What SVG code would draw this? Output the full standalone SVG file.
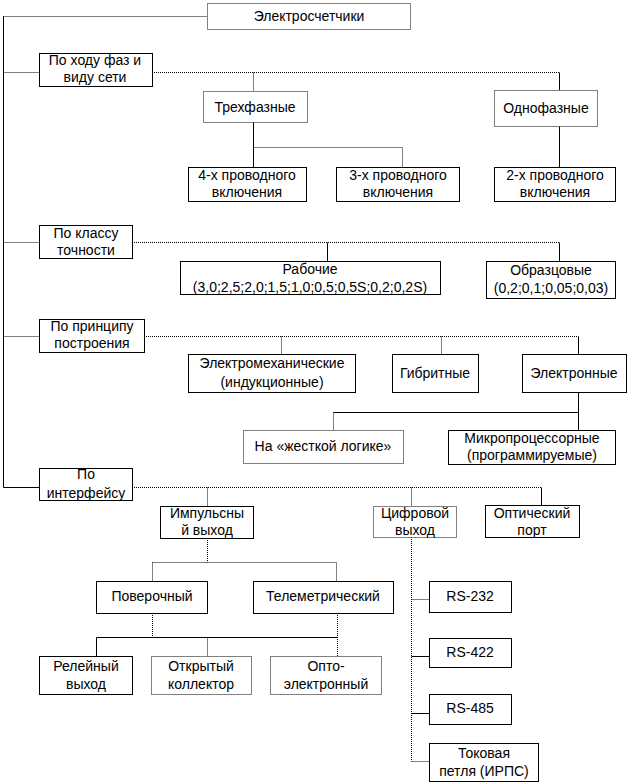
<svg xmlns="http://www.w3.org/2000/svg" width="630" height="784" viewBox="0 0 630 784">
<style>
rect{fill:#fff;stroke:#000;stroke-width:1}
rect.d{stroke-dasharray:1,1}
text{font-family:"Liberation Sans",Arial,sans-serif;font-size:14px;fill:#000;text-anchor:middle}
.s{fill:none;stroke:#000;stroke-width:1}
.d2{fill:none;stroke:#000;stroke-width:1;stroke-dasharray:1,1}
</style>
<rect x="0" y="0" width="630" height="784" style="fill:#fff;stroke:none"/>
<g id="connectors">
<path class="s" d="M3.5 16V487.5"/>
<path class="d2" d="M3.5 16.5H207"/>
<path class="d2" d="M3.5 72.5H39M152 72.5H559.5"/>
<path class="s" d="M559.5 72.5V90"/>
<path class="d2" d="M253.5 72.5V91"/>
<path class="s" d="M253.5 122V167"/>
<path class="d2" d="M253.5 147.5H402.5V167"/>
<path class="s" d="M559.5 126V167"/>
<path class="d2" d="M3.5 242.5H39M132 242.5H559.5"/>
<path class="s" d="M327.5 242.5V261M559.5 242.5V261"/>
<path class="d2" d="M3.5 336.5H39M144 336.5H578.5"/>
<path class="d2" d="M281.5 336.5V354M441.5 336.5V354"/>
<path class="s" d="M578.5 336.5V354"/>
<path class="s" d="M578.5 392V430M333.5 412.5H578.5"/>
<path class="d2" d="M333.5 412.5V430"/>
<path class="s" d="M3.5 487.5H39"/>
<path class="d2" d="M132 487.5H541.5"/>
<path class="s" d="M541.5 487.5V505"/>
<path class="d2" d="M207.5 487.5V506M411.5 487.5V506"/>
<path class="d2" d="M207.5 538V562.5M152.5 562.5H336.5M152.5 562.5V581M336.5 562.5V581"/>
<path class="d2" d="M152.5 613V637.5M337.5 613V656M207.5 637.5V656"/>
<path class="s" d="M96.5 637.5H337.5M96.5 637.5V656"/>
<path class="d2" d="M411.5 537V761.5"/>
<path class="d2" d="M411.5 599.5H429M411.5 761.5H429"/>
<path class="s" d="M411.5 656.5H429M411.5 713.5H429"/>
</g>
<g id="n-root"><rect class="d" x="207.5" y="3.5" width="203" height="26"/><text x="309" y="21">Электросчетчики</text></g>
<g id="n-phase"><rect x="39.5" y="53.5" width="113" height="33"/><text x="95" y="65">По ходу фаз и</text><text x="95" y="82">виду сети</text></g>
<g id="n-3ph"><rect class="d" x="203.5" y="91.5" width="104" height="31"/><text x="255" y="112">Трехфазные</text></g>
<g id="n-1ph"><rect class="d" x="494.5" y="90.5" width="103" height="36"/><text x="546" y="113">Однофазные</text></g>
<g id="n-4w"><rect x="188.5" y="167.5" width="118" height="34"/><text x="247" y="180">4-х проводного</text><text x="247" y="197">включения</text></g>
<g id="n-3w"><rect x="336.5" y="167.5" width="123" height="34"/><text x="398" y="180">3-х проводного</text><text x="398" y="197">включения</text></g>
<g id="n-2w"><rect x="494.5" y="167.5" width="121" height="34"/><text x="555" y="180">2-х проводного</text><text x="555" y="197">включения</text></g>
<g id="n-class"><rect x="39.5" y="225.5" width="93" height="33"/><text x="86" y="238">По классу</text><text x="86" y="255">точности</text></g>
<g id="n-work"><rect x="180.5" y="261.5" width="260" height="33"/><text x="310" y="274">Рабочие</text><text x="310" y="292">(3,0;2,5;2,0;1,5;1,0;0,5;0,5S;0,2;0,2S)</text></g>
<g id="n-ref"><rect x="486.5" y="261.5" width="129" height="37"/><text x="551" y="275">Образцовые</text><text x="551" y="293">(0,2;0,1;0,05;0,03)</text></g>
<g id="n-princ"><rect x="39.5" y="319.5" width="105" height="33"/><text x="92" y="331">По принципу</text><text x="92" y="348">построения</text></g>
<g id="n-emech"><rect x="188.5" y="354.5" width="167" height="38"/><text x="272" y="368">Электромеханические</text><text x="272" y="387">(индукционные)</text></g>
<g id="n-hyb"><rect x="392.5" y="354.5" width="86" height="38"/><text x="435" y="378">Гибритные</text></g>
<g id="n-elec"><rect x="522.5" y="354.5" width="104" height="38"/><text x="574" y="378">Электронные</text></g>
<g id="n-hard"><rect class="d" x="243.5" y="430.5" width="160" height="33"/><text x="323" y="451">На «жесткой логике»</text></g>
<g id="n-micro"><rect x="448.5" y="430.5" width="167" height="34"/><text x="532" y="443">Микропроцессорные</text><text x="532" y="460">(программируемые)</text></g>
<g id="n-iface"><rect x="39.5" y="468.5" width="93" height="32"/><text x="86" y="479">По</text><text x="86" y="498">интерфейсу</text></g>
<g id="n-pulse"><rect x="160.5" y="506.5" width="93" height="32"/><text x="207" y="518">Импульсны</text><text x="207" y="535">й выход</text></g>
<g id="n-digit"><rect class="d" x="373.5" y="506.5" width="83" height="31"/><text x="415" y="518">Цифровой</text><text x="415" y="535">выход</text></g>
<g id="n-opt"><rect x="485.5" y="505.5" width="94" height="32"/><text x="532" y="518">Оптический</text><text x="532" y="535">порт</text></g>
<g id="n-verif"><rect x="96.5" y="581.5" width="111" height="32"/><text x="152" y="601">Поверочный</text></g>
<g id="n-telem"><rect x="253.5" y="581.5" width="140" height="32"/><text x="323" y="601">Телеметрический</text></g>
<g id="n-relay"><rect x="39.5" y="656.5" width="93" height="38"/><text x="86" y="671">Релейный</text><text x="86" y="689">выход</text></g>
<g id="n-oc"><rect class="d" x="151.5" y="656.5" width="100" height="38"/><text x="201" y="671">Открытый</text><text x="201" y="689">коллектор</text></g>
<g id="n-opto"><rect class="d" x="270.5" y="656.5" width="111" height="38"/><text x="326" y="671">Опто-</text><text x="326" y="689">электронный</text></g>
<g id="n-rs232"><rect x="429.5" y="581.5" width="82" height="31"/><text x="470" y="601">RS-232</text></g>
<g id="n-rs422"><rect x="429.5" y="638.5" width="82" height="29"/><text x="470" y="657">RS-422</text></g>
<g id="n-rs485"><rect x="429.5" y="694.5" width="82" height="30"/><text x="470" y="713">RS-485</text></g>
<g id="n-loop"><rect x="429.5" y="743.5" width="109" height="38"/><text x="484" y="758">Токовая</text><text x="484" y="776">петля (ИРПС)</text></g>
</svg>
